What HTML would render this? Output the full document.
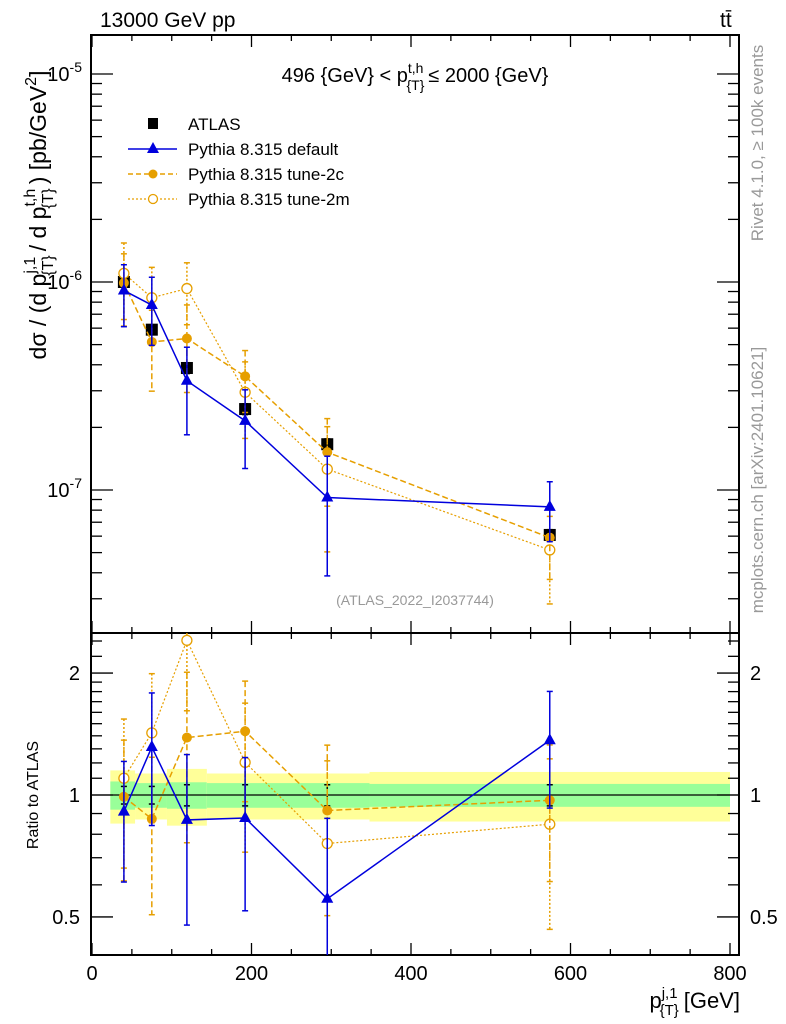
<!DOCTYPE html>
<html><head><meta charset="utf-8"><style>
body{margin:0;background:#fff;}
svg{display:block;font-family:"Liberation Sans",sans-serif;}
</style></head><body>
<svg id="chart" width="786" height="1024" viewBox="0 0 786 1024" xmlns="http://www.w3.org/2000/svg">
<g id="bands"></g>
<g id="grid"></g>
<g id="marks"></g>
<text x="100" y="27" font-size="21">13000 GeV pp</text>
<text x="720" y="27" font-size="21">tt̄</text>
<text x="415" y="82" font-size="20" text-anchor="middle">496 {GeV} &lt; p<tspan font-size="14" dy="-9">t,h</tspan><tspan font-size="14" dx="-17" dy="17">{T}</tspan><tspan dy="-8" dx="4">≤ 2000 {GeV}</tspan></text>
<g font-size="17">
<rect x="148" y="118" width="10" height="11" fill="#000"/>
<text x="188" y="130">ATLAS</text>
<line x1="128" y1="149" x2="177" y2="149" stroke="#0000dd" stroke-width="1.5"/>
<polygon points="153,142 159,153 147,153" fill="#0000dd"/>
<text x="188" y="155">Pythia 8.315 default</text>
<line x1="128" y1="174" x2="177" y2="174" stroke="#e69f00" stroke-width="1.5" stroke-dasharray="5,3"/>
<circle cx="153" cy="174" r="4.5" fill="#e69f00"/>
<text x="188" y="180">Pythia 8.315 tune-2c</text>
<line x1="128" y1="199" x2="177" y2="199" stroke="#e69f00" stroke-width="1.2" stroke-dasharray="2,2"/>
<circle cx="153" cy="199" r="4.5" fill="#fff" stroke="#e69f00" stroke-width="1.3"/>
<text x="188" y="205">Pythia 8.315 tune-2m</text>
</g>
<text x="415" y="605" font-size="14" fill="#999" text-anchor="middle">(ATLAS_2022_I2037744)</text>
<text transform="translate(763,143) rotate(-90)" font-size="17" fill="#999" text-anchor="middle">Rivet 4.1.0, ≥ 100k events</text>
<text transform="translate(763,480) rotate(-90)" font-size="17" fill="#999" text-anchor="middle">mcplots.cern.ch [arXiv:2401.10621]</text>
<text transform="translate(46,215) rotate(-90)" font-size="23" text-anchor="middle">dσ / (d p<tspan font-size="16" dy="-11">j,1</tspan><tspan font-size="16" dx="-19" dy="18">{T}</tspan><tspan dy="-7" dx="4">/ d p</tspan><tspan font-size="16" dy="-11">t,h</tspan><tspan font-size="16" dx="-20" dy="18">{T}</tspan><tspan dy="-7" dx="4">) [pb/GeV</tspan><tspan font-size="16" dy="-10">2</tspan><tspan dy="10">]</tspan></text>
<text transform="translate(38,795) rotate(-90)" font-size="16" text-anchor="middle">Ratio to ATLAS</text>
<text x="740" y="1008" font-size="22" text-anchor="end">p<tspan font-size="15" dy="-10">j,1</tspan><tspan font-size="15" dx="-18" dy="17">{T}</tspan><tspan dy="-7" dx="5">[GeV]</tspan></text>
</svg>
<script>
const xCenters = [40, 75, 119, 192, 295, 574];
const atlasVals = [1.0e-6, 0.59e-6, 0.386e-6, 0.245e-6, 0.166e-6, 0.608e-7];
const atlasErr = [0.05, 0.05, 0.06, 0.06, 0.06, 0.06];
const defaultVals = [0.91e-6, 0.775e-6, 0.335e-6, 0.215e-6, 0.092e-6, 0.83e-7];
const defaultErr = [0.33, 0.36, 0.45, 0.41, 0.58, 0.32];
const tune2cVals = [0.99e-6, 0.515e-6, 0.535e-6, 0.352e-6, 0.152e-6, 0.59e-7];
const tune2cErr = [0.38, 0.42, 0.45, 0.33, 0.45, 0.37];
const tune2mVals = [1.1e-6, 0.84e-6, 0.93e-6, 0.295e-6, 0.126e-6, 0.515e-7];
const tune2mErr = [0.4, 0.4, 0.33, 0.4, 0.6, 0.45];
const bandEdges = [23, 54, 94, 144, 348, 800];
const bandInner = [0.08, 0.07, 0.075, 0.07, 0.065];
const bandOuter = [0.15, 0.13, 0.16, 0.13, 0.14];
const xTicks = [0, 200, 400, 600, 800];
const ratioTicks = [0.5, 1, 2];

const NS = "http://www.w3.org/2000/svg";
const L = 91, R = 739, MT = 35, MB = 633, RB = 955;
const xs = v => 92 + v * (638 / 800);
const ys = v => 282 - (Math.log10(v) + 6) * 208;
const yr = v => 795 - Math.log10(v) * 405;
function mk(parent, tag, attrs) {
  const e = document.createElementNS(NS, tag);
  for (const k in attrs) e.setAttribute(k, attrs[k]);
  parent.appendChild(e);
  return e;
}
const G = document.getElementById('grid'), B = document.getElementById('bands'), M = document.getElementById('marks');

for (let i = 0; i < bandInner.length; i++) {
  const x1 = xs(bandEdges[i]), x2 = xs(bandEdges[i + 1]);
  const o = mk(B, 'rect', {x: x1, y: yr(1 + bandOuter[i]), width: x2 - x1, height: yr(1 - bandOuter[i]) - yr(1 + bandOuter[i]), fill: '#ffff99'});
  
  
  const n = mk(B, 'rect', {x: x1, y: yr(1 + bandInner[i]), width: x2 - x1, height: yr(1 - bandInner[i]) - yr(1 + bandInner[i]), fill: '#99ff99'});
  
  
}
mk(G, 'line', {x1: L, x2: R, y1: yr(1), y2: yr(1), stroke: '#000', 'stroke-width': 1.2});

mk(G, 'rect', {x: L, y: MT, width: R - L, height: MB - MT, fill: 'none', stroke: '#000', 'stroke-width': 2});
mk(G, 'rect', {x: L, y: MB, width: R - L, height: RB - MB, fill: 'none', stroke: '#000', 'stroke-width': 2});

for (let v = 0; v <= 800; v += 50) {
  const x = xs(v), len = v % 200 === 0 ? 12 : 6;
  [[MT, 1], [MB, -1], [MB, 1], [RB, -1]].forEach(([y, d]) => mk(G, 'line', {x1: x, x2: x, y1: y, y2: y + d * len, stroke: '#000', 'stroke-width': 1.3}));
}
xTicks.forEach(v => {
  const t = mk(G, 'text', {x: xs(v), y: 980, 'font-size': 20, 'text-anchor': 'middle'});
  t.textContent = v;
  
  
});
for (let e = -8; e <= -5; e++) for (let m = 1; m <= 9; m++) {
  const v = m * Math.pow(10, e), y = ys(v);
  if (y < MT || y > MB) continue;
  const len = m === 1 ? 22 : 11;
  mk(G, 'line', {x1: L, x2: L + len, y1: y, y2: y, stroke: '#000', 'stroke-width': 1.3});
  mk(G, 'line', {x1: R, x2: R - len, y1: y, y2: y, stroke: '#000', 'stroke-width': 1.3});
  if (m === 1) {
    const t = mk(G, 'text', {x: 82, y: y + 7, 'font-size': 20, 'text-anchor': 'end'});
    t.innerHTML = '10<tspan font-size="14" dy="-9">' + e + '</tspan>';
    
    
  }
}
[0.5,0.6,0.7,0.8,0.9,1,1.1,1.2,1.3,1.4,1.5,1.6,1.7,1.8,1.9,2,2.2,2.4].forEach(v => {
  const y = yr(v), len = ratioTicks.includes(v) ? 22 : 11;
  mk(G, 'line', {x1: L, x2: L + len, y1: y, y2: y, stroke: '#000', 'stroke-width': 1.3});
  mk(G, 'line', {x1: R, x2: R - len, y1: y, y2: y, stroke: '#000', 'stroke-width': 1.3});
});
ratioTicks.forEach(v => {
  const a = mk(G, 'text', {x: 80, y: yr(v) + 7, 'font-size': 20, 'text-anchor': 'end'});
  a.textContent = v;
  
  
  const b = mk(G, 'text', {x: 750, y: yr(v) + 7, 'font-size': 20});
  b.textContent = v;
  
  
});

function clipY(y, top, bot) { return Math.max(top, Math.min(bot, y)); }
function series(vals, errs, style, name, marker) {
  const g = mk(M, 'g', {});
  
  
  const ptsMain = [], ptsRatio = [];
  vals.forEach((v, i) => {
    const x = xs(xCenters[i]);
    const up = v * (1 + errs[i]), dn = v * (1 - errs[i]);
    const r = v / atlasVals[i];
    ptsMain.push(x + ',' + ys(v));
    ptsRatio.push(x + ',' + clipY(yr(r), MB, RB));
    [[ys, 1, MT, MB], [yr, atlasVals[i], MB, RB]].forEach(([f, d, t, b]) => {
      const y1 = clipY(f(up / d), t, b), y2 = clipY(f(Math.max(dn, 1e-12) / d), t, b);
      mk(g, 'line', {x1: x, x2: x, y1: y1, y2: y2, stroke: style.c, 'stroke-width': 1.5, 'stroke-dasharray': style.d});
      [y1, y2].forEach(yy => { if (yy > t && yy < b) mk(g, 'line', {x1: x - 3, x2: x + 3, y1: yy, y2: yy, stroke: style.c, 'stroke-width': 1.5}); });
    });
  });
  if (marker !== 'sq') {
    mk(g, 'polyline', {points: ptsMain.join(' '), fill: 'none', stroke: style.c, 'stroke-width': style.w, 'stroke-dasharray': style.d});
    mk(g, 'polyline', {points: ptsRatio.join(' '), fill: 'none', stroke: style.c, 'stroke-width': style.w, 'stroke-dasharray': style.d});
  }
  [ptsMain, ptsRatio].forEach((pts, k) => pts.forEach((p, i) => {
    const [x, y] = p.split(',').map(Number);
    if (k === 1 && marker === 'sq') return;
    let e;
    if (marker === 'sq') e = mk(g, 'rect', {x: x - 6, y: y - 6, width: 12, height: 12, fill: '#000'});
    else if (marker === 'tri') e = mk(g, 'polygon', {points: `${x},${y-7} ${x+6},${y+4} ${x-6},${y+4}`, fill: style.c});
    else if (marker === 'dot') e = mk(g, 'circle', {cx: x, cy: y, r: 5, fill: style.c});
    else e = mk(g, 'circle', {cx: x, cy: y, r: 5, fill: '#fff', stroke: style.c, 'stroke-width': 1.3});
    
    
  }));
}
series(atlasVals, atlasErr, {c: '#000', d: 'none', w: 1.5}, 'atlas-data', 'sq');
series(tune2mVals, tune2mErr, {c: '#e69f00', d: '2,2', w: 1.2}, 'tune-2m', 'ring');
series(tune2cVals, tune2cErr, {c: '#e69f00', d: '6,3', w: 1.5}, 'tune-2c', 'dot');
series(defaultVals, defaultErr, {c: '#0000dd', d: 'none', w: 1.5}, 'default', 'tri');
</script>
</body></html>
